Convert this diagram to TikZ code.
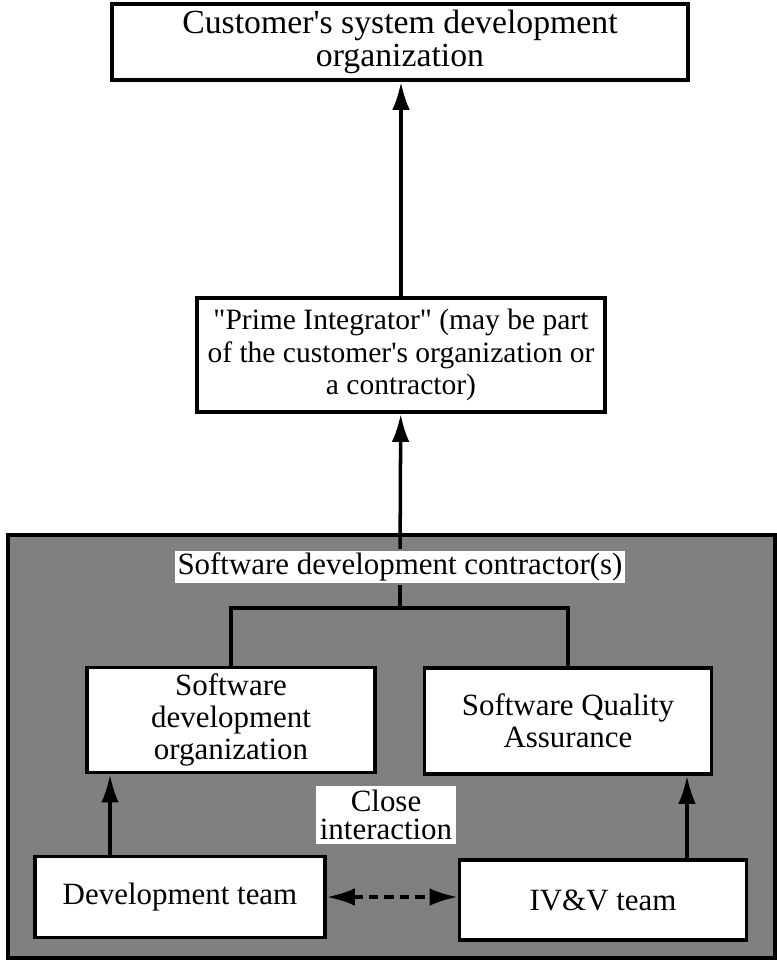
\documentclass[tikz,border=0pt]{standalone}
\usepackage{fontspec}
\setmainfont{Liberation Serif}
\usepackage{tikz}
\usetikzlibrary{backgrounds,arrows.meta}

\begin{document}
\begin{tikzpicture}[x=0.025cm,y=-0.025cm,line width=2.5pt]
        %
        % `orgbox' is used for the organisation boxes.
        % `tag' is used for the white labels on the grey area.
        % `surround' is used for the grey background box.
        \tikzstyle{orgbox} = [draw,fill=white,line width=2.6pt,align=center,inner sep=2pt,
                              font=\fontsize{22}{23}\selectfont]
        \tikzstyle{tag} = [fill=white,align=center,inner sep=1.5pt,
                           font=\fontsize{22}{20}\selectfont]
        \tikzstyle{surround} = [fill=black!50,draw=black,line width=2.6pt]
        \tikzstyle{up} = [-{Latex[length=7mm,width=4.4mm]}]
        %
        \useasboundingbox (0,0) rectangle (776,965);
        %
        % Top
        \node[orgbox,minimum width=14.4cm,minimum height=1.9cm,
              font=\fontsize{24}{24}\selectfont] (customer) at (400,42)
                {Customer\textquotesingle s system development\\organization};
        \node[orgbox,minimum width=10.2cm,minimum height=2.85cm,
              font=\fontsize{21}{23}\selectfont] (prime) at (401,355)
                {\textquotedbl Prime Integrator\textquotedbl{} (may be part\\of the
                 customer\textquotesingle s organization or\\a contractor)};
        \draw[up] (prime.north) -- (prime.north |- customer.south);
        %
        % Contractor
        \node[tag] (contractor) at (400,567) {Software development contractor(s)};
        \coordinate (fork) at (400,608);
        \node[orgbox,minimum width=7.2cm,minimum height=2.63cm] (devorg) at (231,720)
                {Software\\development\\organization};
        \node[orgbox,minimum width=7.18cm,minimum height=2.65cm] (sqa) at (568,721)
                {Software Quality\\Assurance};
        \draw[up] (contractor) -- (prime);
        \draw (contractor) -- (fork);
        \draw (devorg.north) |- (fork) -| (sqa.north);
        %
        % Teams
        \node[orgbox,minimum width=7.25cm,minimum height=2.03cm] (devteam) at (180,897)
                {Development team};
        \node[orgbox,minimum width=7.18cm,minimum height=2.0cm] (ivv) at (603,900)
                {IV\&V team};
        \node[tag,inner sep=3pt] (close) at (386,815) {Close\\interaction};
        \coordinate (leftup) at (110,0);
        \coordinate (rightup) at (687,0);
        \draw[up] (devteam.north -| leftup) -- (devorg.south -| leftup);
        \draw[up] (ivv.north -| rightup) -- (sqa.south -| rightup);
        \draw[{Latex[length=7mm,width=4.4mm]}-{Latex[length=7mm,width=4.4mm]},
              dash pattern=on 7pt off 4pt]
                (devteam.east) -- (ivv.west |- devteam.east);
        %
        % Background Box
        \begin{pgfonlayer}{background}
        \draw[surround] (8,535) rectangle (775,958);
        \end{pgfonlayer}
        %
\end{tikzpicture}
\end{document}
